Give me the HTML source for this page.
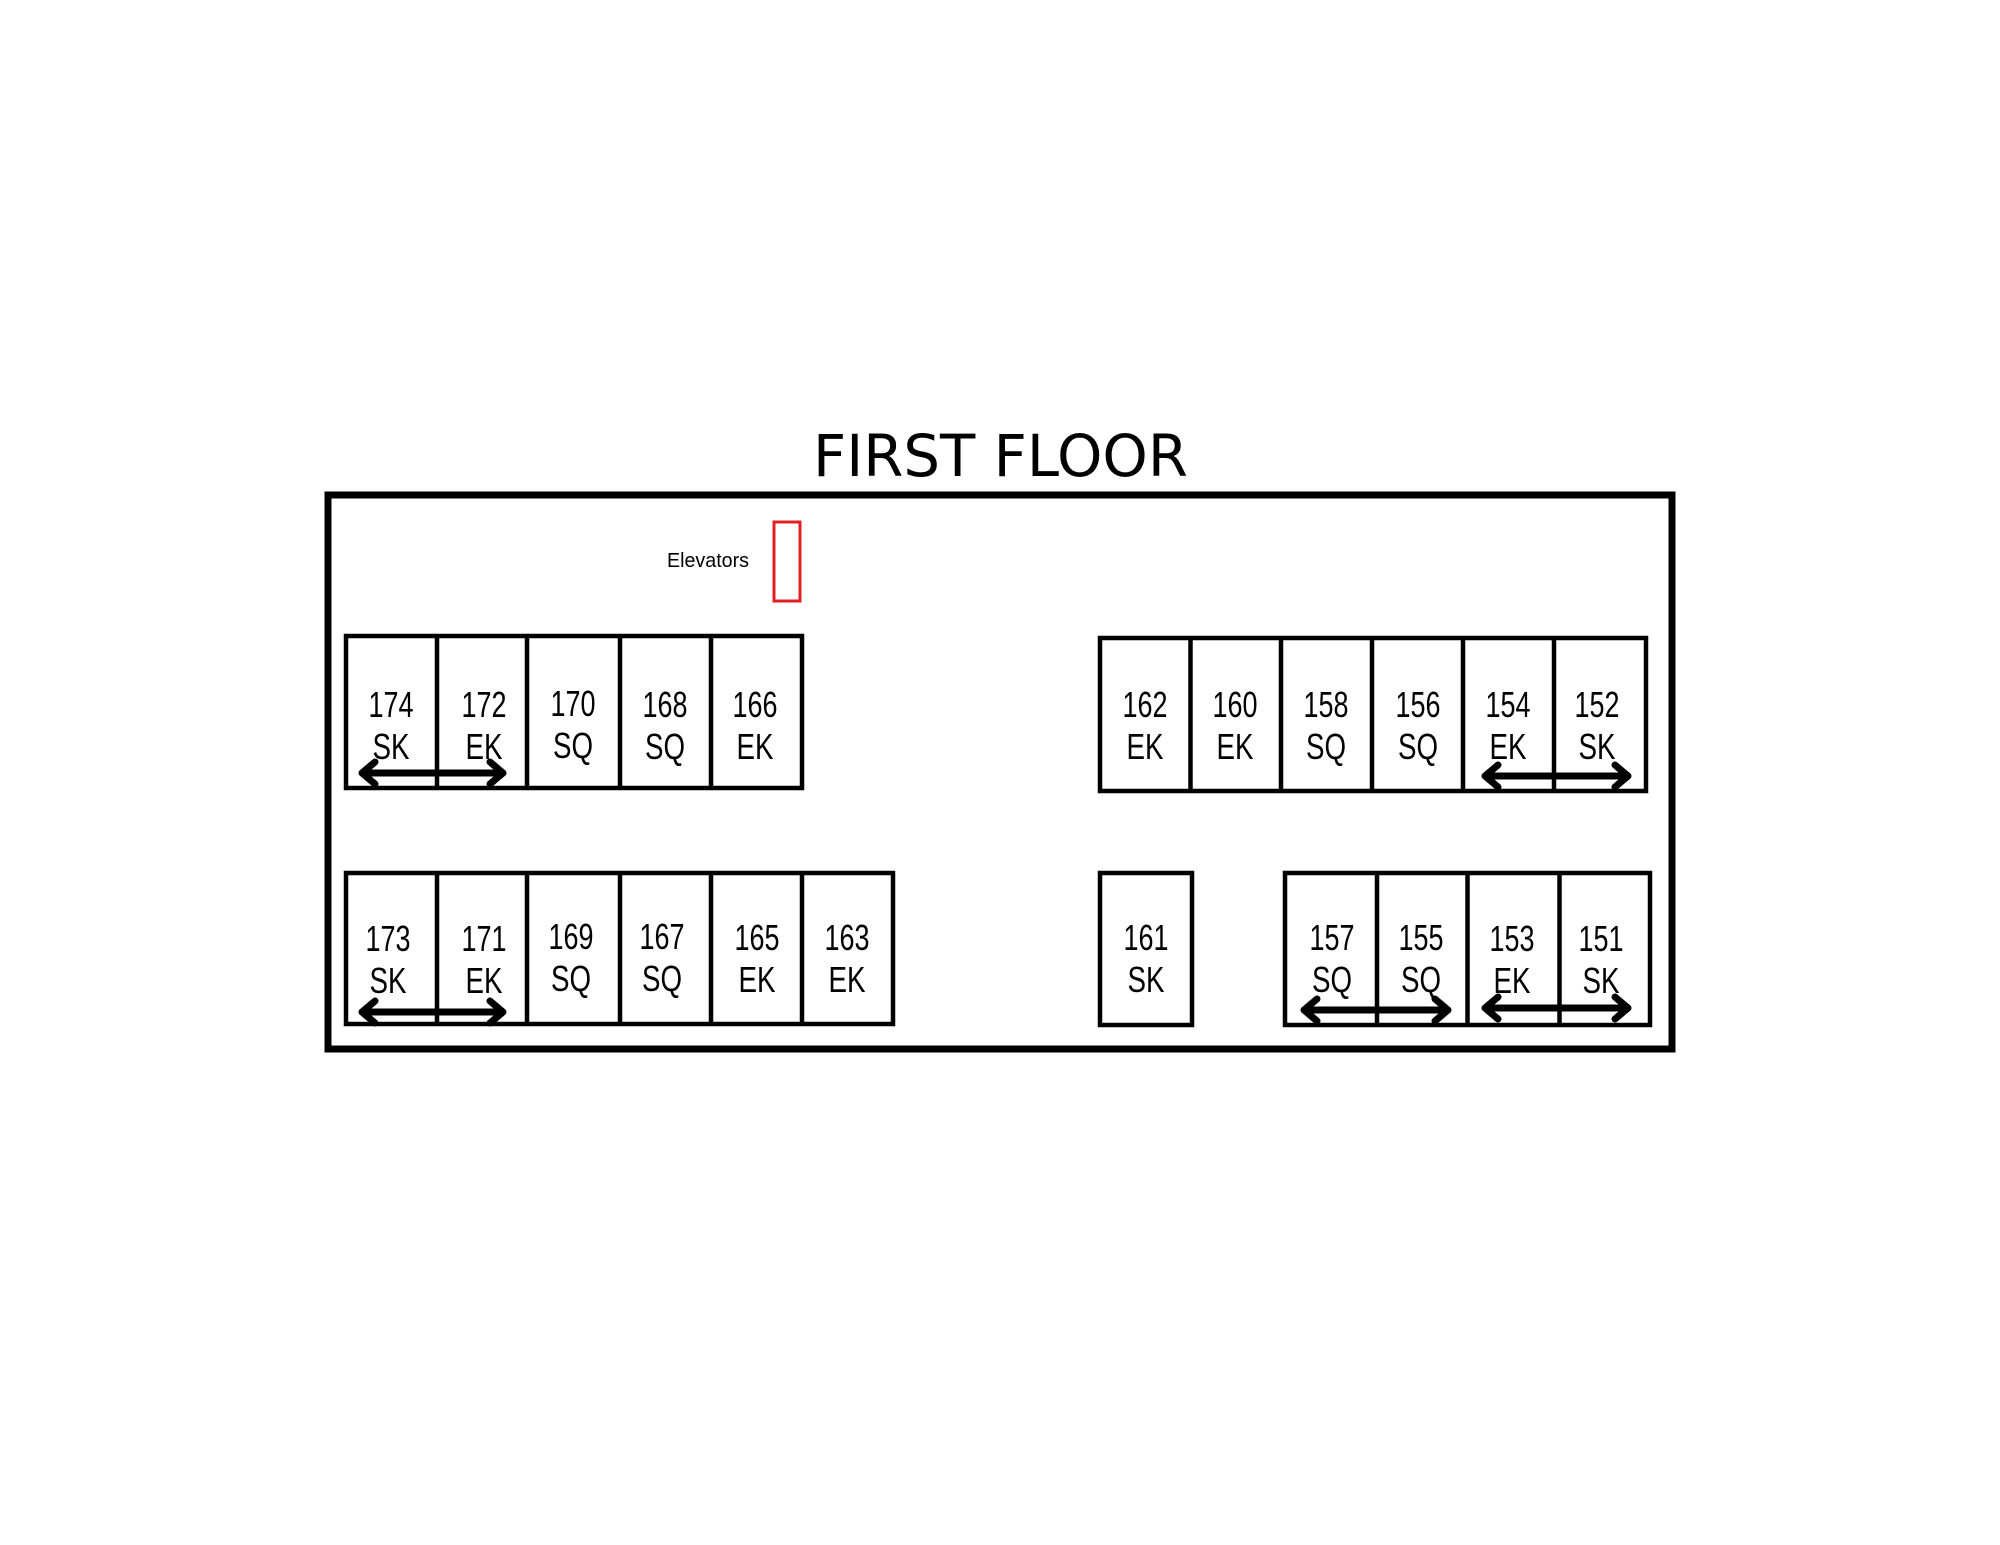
<!DOCTYPE html>
<html><head><meta charset="utf-8"><style>html,body{margin:0;padding:0;background:#fff}svg{display:block}</style></head>
<body>
<svg width="2000" height="1545" viewBox="0 0 2000 1545" xmlns="http://www.w3.org/2000/svg">
<rect width="2000" height="1545" fill="#fff"/>
<text x="813" y="476" font-family="'DejaVu Sans','Liberation Sans',sans-serif" font-size="58" textLength="375" lengthAdjust="spacingAndGlyphs" fill="#000">FIRST FLOOR</text>
<rect x="328" y="495" width="1344" height="554" fill="none" stroke="#000" stroke-width="7"/>
<text x="667" y="567" font-family="'Liberation Sans',sans-serif" font-size="20" textLength="82" lengthAdjust="spacingAndGlyphs" fill="#000">Elevators</text>
<rect x="774" y="522" width="26" height="79" fill="none" stroke="#e02020" stroke-width="3"/>
<g fill="none" stroke="#000" stroke-width="4.5">
<rect x="346" y="636" width="456" height="152"/>
<line x1="437" y1="636" x2="437" y2="788"/><line x1="527" y1="636" x2="527" y2="788"/><line x1="620" y1="636" x2="620" y2="788"/><line x1="711" y1="636" x2="711" y2="788"/>
<rect x="346" y="873" width="547" height="151"/>
<line x1="437" y1="873" x2="437" y2="1024"/><line x1="527" y1="873" x2="527" y2="1024"/><line x1="620" y1="873" x2="620" y2="1024"/><line x1="711" y1="873" x2="711" y2="1024"/><line x1="802" y1="873" x2="802" y2="1024"/>
<rect x="1100" y="638" width="546" height="153"/>
<line x1="1190.5" y1="638" x2="1190.5" y2="791"/><line x1="1281" y1="638" x2="1281" y2="791"/><line x1="1372" y1="638" x2="1372" y2="791"/><line x1="1463" y1="638" x2="1463" y2="791"/><line x1="1554" y1="638" x2="1554" y2="791"/>
<rect x="1100" y="873" width="92" height="152"/>
<rect x="1285" y="873" width="365" height="152"/>
<line x1="1377" y1="873" x2="1377" y2="1025"/><line x1="1467.5" y1="873" x2="1467.5" y2="1025"/><line x1="1559.5" y1="873" x2="1559.5" y2="1025"/>
</g>
<g font-family="'Liberation Sans',sans-serif" font-size="36" fill="#000" text-anchor="middle" lengthAdjust="spacingAndGlyphs">
<text x="391" y="717" textLength="45" lengthAdjust="spacingAndGlyphs">174</text><text x="391" y="759" textLength="37" lengthAdjust="spacingAndGlyphs">SK</text>
<text x="484" y="717" textLength="45" lengthAdjust="spacingAndGlyphs">172</text><text x="484" y="759" textLength="37" lengthAdjust="spacingAndGlyphs">EK</text>
<text x="573" y="716" textLength="45" lengthAdjust="spacingAndGlyphs">170</text><text x="573" y="758" textLength="40" lengthAdjust="spacingAndGlyphs">SQ</text>
<text x="665" y="717" textLength="45" lengthAdjust="spacingAndGlyphs">168</text><text x="665" y="759" textLength="40" lengthAdjust="spacingAndGlyphs">SQ</text>
<text x="755" y="717" textLength="45" lengthAdjust="spacingAndGlyphs">166</text><text x="755" y="759" textLength="37" lengthAdjust="spacingAndGlyphs">EK</text>
<text x="388" y="951" textLength="45" lengthAdjust="spacingAndGlyphs">173</text><text x="484" y="951" textLength="45" lengthAdjust="spacingAndGlyphs">171</text><text x="571" y="949" textLength="45" lengthAdjust="spacingAndGlyphs">169</text><text x="662" y="949" textLength="45" lengthAdjust="spacingAndGlyphs">167</text><text x="757" y="950" textLength="45" lengthAdjust="spacingAndGlyphs">165</text><text x="847" y="950" textLength="45" lengthAdjust="spacingAndGlyphs">163</text>
<text x="388" y="993" textLength="37" lengthAdjust="spacingAndGlyphs">SK</text><text x="484" y="993" textLength="37" lengthAdjust="spacingAndGlyphs">EK</text><text x="571" y="991" textLength="40" lengthAdjust="spacingAndGlyphs">SQ</text><text x="662" y="991" textLength="40" lengthAdjust="spacingAndGlyphs">SQ</text><text x="757" y="992" textLength="37" lengthAdjust="spacingAndGlyphs">EK</text><text x="847" y="992" textLength="37" lengthAdjust="spacingAndGlyphs">EK</text>
<text x="1145" y="717" textLength="45" lengthAdjust="spacingAndGlyphs">162</text><text x="1235" y="717" textLength="45" lengthAdjust="spacingAndGlyphs">160</text><text x="1326" y="717" textLength="45" lengthAdjust="spacingAndGlyphs">158</text><text x="1418" y="717" textLength="45" lengthAdjust="spacingAndGlyphs">156</text><text x="1508" y="717" textLength="45" lengthAdjust="spacingAndGlyphs">154</text><text x="1597" y="717" textLength="45" lengthAdjust="spacingAndGlyphs">152</text>
<text x="1145" y="759" textLength="37" lengthAdjust="spacingAndGlyphs">EK</text><text x="1235" y="759" textLength="37" lengthAdjust="spacingAndGlyphs">EK</text><text x="1326" y="759" textLength="40" lengthAdjust="spacingAndGlyphs">SQ</text><text x="1418" y="759" textLength="40" lengthAdjust="spacingAndGlyphs">SQ</text><text x="1508" y="759" textLength="37" lengthAdjust="spacingAndGlyphs">EK</text><text x="1597" y="759" textLength="37" lengthAdjust="spacingAndGlyphs">SK</text>
<text x="1146" y="950" textLength="45" lengthAdjust="spacingAndGlyphs">161</text><text x="1332" y="950" textLength="45" lengthAdjust="spacingAndGlyphs">157</text><text x="1421" y="950" textLength="45" lengthAdjust="spacingAndGlyphs">155</text><text x="1512" y="951" textLength="45" lengthAdjust="spacingAndGlyphs">153</text><text x="1601" y="951" textLength="45" lengthAdjust="spacingAndGlyphs">151</text>
<text x="1146" y="992" textLength="37" lengthAdjust="spacingAndGlyphs">SK</text><text x="1332" y="992" textLength="40" lengthAdjust="spacingAndGlyphs">SQ</text><text x="1421" y="992" textLength="40" lengthAdjust="spacingAndGlyphs">SQ</text><text x="1512" y="993" textLength="37" lengthAdjust="spacingAndGlyphs">EK</text><text x="1601" y="993" textLength="37" lengthAdjust="spacingAndGlyphs">SK</text>
</g>
<g fill="none" stroke="#000" stroke-width="7" stroke-linecap="round" stroke-linejoin="round">
<path d="M362 773 H503 M375 762 L362 773 L375 784 M490 762 L503 773 L490 784"/>
<path d="M362 1012 H503 M375 1001 L362 1012 L375 1023 M490 1001 L503 1012 L490 1023"/>
<path d="M1485 776 H1628 M1498 765 L1485 776 L1498 787 M1615 765 L1628 776 L1615 787"/>
<path d="M1304 1010 H1448 M1317 999 L1304 1010 L1317 1021 M1435 999 L1448 1010 L1435 1021"/>
<path d="M1485 1008 H1628 M1498 997 L1485 1008 L1498 1019 M1615 997 L1628 1008 L1615 1019"/>
</g>
</svg>
</body></html>
